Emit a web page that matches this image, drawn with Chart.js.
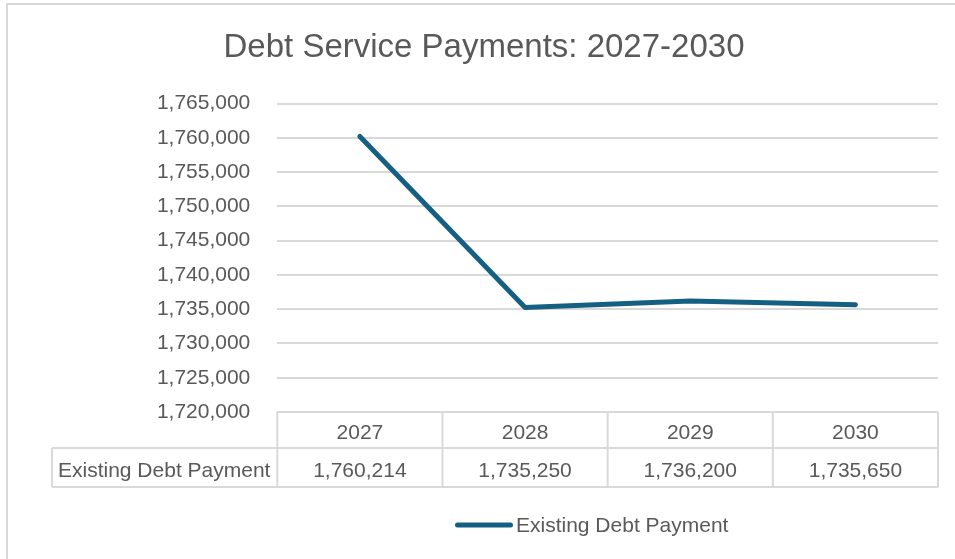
<!DOCTYPE html>
<html lang="en">
<head>
  <meta charset="UTF-8">
  <title>Debt Service Payments: 2027-2030</title>
  <script src="https://cdn.jsdelivr.net/npm/chart.js"></script>
  <style>
    html, body {
      margin: 0;
      padding: 0;
      background-color: white;
    }
    #chart {
      display: block;
    }
  </style>
</head>
<body>
  <canvas id="chart" width="955" height="559"></canvas>
<script>
  // values
  const years = ['2027', '2028', '2029', '2030'];
  const payments = [1760214, 1735250, 1736200, 1735650];
  const seriesName = 'Existing Debt Payment';
  const yMin = 1720000;
  const yMax = 1765000;
  const yStep = 5000;

  const textColor = '#595959';
  const lineColor = '#156082';
  const gridColor = '#d9d9d9';
  const fontFamily = "'Liberation Sans', Arial, sans-serif";

  function fmt(v) {
    return Number(v).toLocaleString('en-US');
  }

  // frame round the chart, like the Excel chart border
  const framePlugin = {
    id: 'frame',
    beforeDraw(chart) {
      const ctx = chart.ctx;
      ctx.save();
      ctx.fillStyle = 'white';
      ctx.fillRect(0, 0, chart.width, chart.height);
      ctx.strokeStyle = gridColor;
      ctx.lineWidth = 2;
      ctx.beginPath();
      ctx.moveTo(7, chart.height);
      ctx.lineTo(7, 4);
      ctx.lineTo(chart.width, 4);
      ctx.stroke();
      ctx.restore();
    }
  };

  // data table under the plot + legend
  const tablePlugin = {
    id: 'dataTable',
    afterDraw(chart) {
      const ctx = chart.ctx;
      const x = chart.scales.x;
      const area = chart.chartArea;
      const top = area.bottom;
      const mid = top + 36;
      const bottom = top + 75;
      const labelLeft = 52;

      // column edges from the category scale
      const edges = [area.left];
      for (let i = 0; i < years.length - 1; i++) {
        edges.push((x.getPixelForValue(i) + x.getPixelForValue(i + 1)) / 2);
      }
      edges.push(area.right);

      ctx.save();
      ctx.strokeStyle = gridColor;
      ctx.lineWidth = 2;
      ctx.beginPath();
      ctx.moveTo(area.left, top);
      ctx.lineTo(area.right, top);
      ctx.moveTo(labelLeft, mid);
      ctx.lineTo(area.right, mid);
      ctx.moveTo(labelLeft, bottom);
      ctx.lineTo(area.right, bottom);
      edges.forEach(e => {
        ctx.moveTo(e, top);
        ctx.lineTo(e, bottom);
      });
      ctx.moveTo(labelLeft, mid);
      ctx.lineTo(labelLeft, bottom);
      ctx.stroke();

      ctx.fillStyle = textColor;
      ctx.font = '21px ' + fontFamily;
      ctx.textBaseline = 'middle';
      ctx.textAlign = 'center';
      years.forEach((yr, i) => {
        const cx = x.getPixelForValue(i);
        ctx.fillText(yr, cx, top + 21);
        ctx.fillText(fmt(payments[i]), cx, mid + 23);
      });
      ctx.textAlign = 'left';
      ctx.fillText(seriesName, labelLeft + 6, mid + 23);

      // legend
      const ly = 525;
      ctx.strokeStyle = lineColor;
      ctx.lineWidth = 5;
      ctx.lineCap = 'round';
      ctx.beginPath();
      ctx.moveTo(457.5, ly);
      ctx.lineTo(510.5, ly);
      ctx.stroke();
      ctx.fillText(seriesName, 516, ly + 1);
      ctx.restore();
    }
  };

  const ctx = document.getElementById('chart').getContext('2d');
  new Chart(ctx, {
    type: 'line',
    data: {
      labels: years,
      datasets: [{
        label: seriesName,
        data: payments,
        borderColor: lineColor,
        backgroundColor: lineColor,
        borderWidth: 5,
        borderCapStyle: 'round',
        borderJoinStyle: 'round',
        pointRadius: 0,
        tension: 0
      }]
    },
    options: {
      responsive: false,
      animation: false,
      layout: {
        padding: { left: 30, right: 17, top: 0, bottom: 72 }
      },
      scales: {
        x: {
          offset: true,
          grid: { display: false },
          border: { display: false },
          ticks: { display: false },
          afterFit(scale) {
            scale.height = 75;
          }
        },
        y: {
          min: yMin,
          max: yMax,
          border: { display: false },
          grid: {
            color: gridColor,
            lineWidth: 2,
            drawTicks: false
          },
          ticks: {
            stepSize: yStep,
            padding: 27,
            color: textColor,
            font: { family: fontFamily, size: 21 },
            callback: v => fmt(v)
          },
          afterFit(scale) {
            scale.width = 247.3;
          }
        }
      },
      plugins: {
        legend: { display: false },
        tooltip: { enabled: false },
        title: {
          display: true,
          text: 'Debt Service Payments: 2027-2030',
          color: textColor,
          font: { family: fontFamily, size: 33, weight: 'normal' },
          padding: { top: 28, bottom: 36 }
        }
      }
    },
    plugins: [framePlugin, tablePlugin]
  });
</script>
</body>
</html>
